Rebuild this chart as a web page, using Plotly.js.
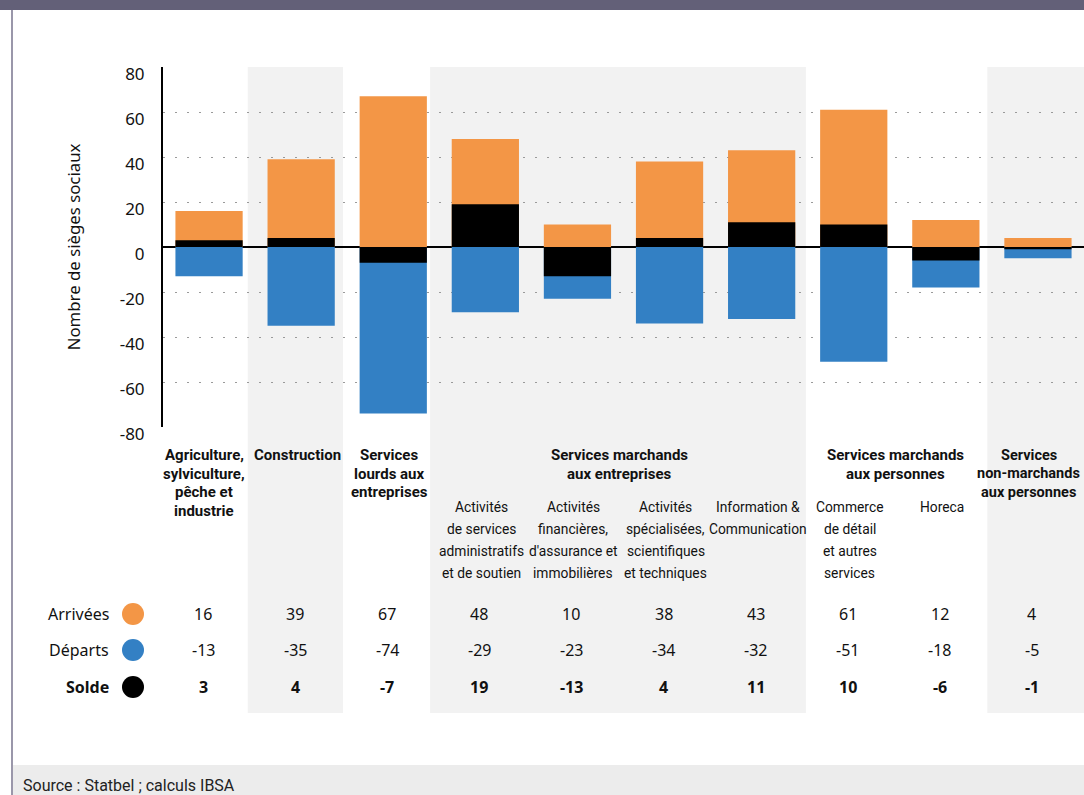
<!DOCTYPE html>
<html>
<head>
<meta charset="utf-8">
<script src="https://cdn.plot.ly/plotly-3.0.1.min.js"></script>
<style>html,body{margin:0;padding:0;background:#fff;}#chart{width:1084px;height:795px;}</style>
</head>
<body>
<div id="chart"></div>
<script>
// ---- data ----
const categories = [
  "Agriculture, sylviculture, pêche et industrie",
  "Construction",
  "Services lourds aux entreprises",
  "Activités de services administratifs et de soutien",
  "Activités financières, d'assurance et immobilières",
  "Activités spécialisées, scientifiques et techniques",
  "Information & Communication",
  "Commerce de détail et autres services",
  "Horeca",
  "Services non-marchands aux personnes"
];
const arrivees = [16, 39, 67, 48, 10, 38, 43, 61, 12, 4];
const departs  = [-13, -35, -74, -29, -23, -34, -32, -51, -18, -5];
const solde    = [3, 4, -7, 19, -13, 4, 11, 10, -6, -1];

const groupLabels = [
  "Agriculture,<br>sylviculture,<br>pêche et<br>industrie",
  "Construction",
  "Services<br>lourds aux<br>entreprises",
  "Services marchands<br>aux entreprises",
  "Services marchands<br>aux personnes",
  "Services<br>non-marchands<br>aux personnes"
];
const groupCenters = [0, 1, 2, 4.5, 7.5, 9];
const subLabels = [
  "Activités<br>de services<br>administratifs<br>et de soutien",
  "Activités<br>financières,<br>d'assurance et<br>immobilières",
  "Activités<br>spécialisées,<br>scientifiques<br>et techniques",
  "Information &<br>Communication",
  "Commerce<br>de détail<br>et autres<br>services",
  "Horeca"
];
const subIndex = [3, 4, 5, 6, 7, 8];
const rowNames = ["Arrivées", "Départs", "Solde"];
const yTicks = [-80, -60, -40, -20, 0, 20, 40, 60, 80];

// ---- style ----
const ORANGE = "rgb(243,150,70)";
const BLUE = "rgb(51,128,196)";
const BLACK = "#000000";
const NARROW = "Roboto, 'Liberation Sans', sans-serif";
const REG = "'Noto Sans', 'Open Sans', sans-serif";
const groupShift = [-5, -4, -4, -4, -4, -9];

const W = 1084, H = 795, L = 163, T = 67, PW = 921, PH = 360;
const px = x => (x - L) / PW;
const py = y => (T + PH - y) / PH;

const idx = categories.map((_, i) => i);

const traces = [
  {type: "bar", name: "Arrivées", x: idx, y: arrivees, marker: {color: ORANGE}, width: 0.73, hoverinfo: "y"},
  {type: "bar", name: "Départs", x: idx, y: departs, marker: {color: BLUE}, width: 0.73, hoverinfo: "y"},
  {type: "bar", name: "Solde", x: idx, y: solde, marker: {color: BLACK}, width: 0.73, hoverinfo: "y"}
];

const shapes = [];
const annotations = [];

// top bar, frame, footer
shapes.push({type: "rect", xref: "paper", yref: "paper", x0: px(0), x1: px(W), y0: py(10), y1: py(0), fillcolor: "rgb(99,96,120)", line: {width: 0}, layer: "below"});
shapes.push({type: "rect", xref: "paper", yref: "paper", x0: px(12), x1: px(W), y0: py(795), y1: py(765), fillcolor: "#ececec", line: {width: 0}, layer: "below"});
shapes.push({type: "line", xref: "paper", yref: "paper", x0: px(12), x1: px(12), y0: py(10), y1: py(795), line: {color: "#9a97aa", width: 2}, layer: "above"});

// shaded bands
const bands = [[0.42, 1.455], [2.40, 6.48], [8.45, 9.6]];
bands.forEach(b => shapes.push({type: "rect", xref: "x", yref: "paper", x0: b[0], x1: b[1], y0: py(713), y1: 1, fillcolor: "#f2f2f2", line: {width: 0}, layer: "below"}));

// headers, per line
function addLines(text, x, yTop, spacing, size, bold, shift) {
  text.split("<br>").forEach((line, k) => {
    annotations.push({xref: "x", yref: "paper", x: x, y: py(yTop + k * spacing), xshift: shift,
      text: bold ? "<b>" + line + "</b>" : line, showarrow: false, xanchor: "center", yanchor: "middle",
      font: {family: NARROW, size: size, color: "#111"}});
  });
}
groupLabels.forEach((g, i) => addLines(g, groupCenters[i], 455, 18.5, i === 5 ? 14.5 : 15, true, groupShift[i]));
subLabels.forEach((s, i) => addLines(s, subIndex[i], 507, 22, 13.8, false, -4));

// table
const rowY = [614, 650, 687];
const rowData = [arrivees, departs, solde];
const rowColors = [ORANGE, BLUE, BLACK];
rowNames.forEach((name, r) => {
  const bold = r === 2;
  annotations.push({xref: "paper", yref: "paper", x: px(111), y: py(rowY[r]), text: bold ? "<b>" + name + "</b>" : name,
    showarrow: false, xanchor: "right", yanchor: "middle", font: {family: REG, size: 16, color: "#111"}});
  shapes.push({type: "circle", xref: "paper", yref: "paper", x0: px(122), x1: px(144), y0: py(rowY[r] + 11), y1: py(rowY[r] - 11),
    fillcolor: rowColors[r], line: {width: 0}, layer: "above"});
  rowData[r].forEach((v, i) => {
    annotations.push({xref: "x", yref: "paper", x: i, y: py(rowY[r]), xshift: -6, text: bold ? "<b>" + v + "</b>" : String(v),
      showarrow: false, xanchor: "center", yanchor: "middle", font: {family: REG, size: 16, color: "#111"}});
  });
});

// source
annotations.push({xref: "paper", yref: "paper", x: px(21), y: py(785), text: "Source : Statbel ; calculs IBSA",
  showarrow: false, xanchor: "left", yanchor: "middle", font: {family: NARROW, size: 16, color: "#222"}});

const layout = {
  width: W, height: H,
  margin: {l: L, r: W - L - PW, t: T, b: H - T - PH, pad: 0},
  paper_bgcolor: "#ffffff",
  plot_bgcolor: "rgba(0,0,0,0)",
  barmode: "overlay",
  showlegend: false,
  xaxis: {range: [-0.5, 9.5], showticklabels: false, showgrid: false, zeroline: false, showline: false, fixedrange: true},
  yaxis: {
    range: [-80, 80], tickvals: yTicks, ticktext: yTicks.map(String),
    showline: true, linecolor: "#000", linewidth: 2,
    zeroline: true, zerolinecolor: "#000", zerolinewidth: 2,
    showgrid: true, gridcolor: "#9a9a9a", gridwidth: 1, griddash: "1.5px,10.5px",
    ticks: "", ticklabelstandoff: 13, ticklabelshift: 7,
    tickfont: {family: REG, size: 17, color: "#111"},
    title: {text: "Nombre de sièges sociaux", font: {family: REG, size: 16.8, color: "#111"}, standoff: 35},
    fixedrange: true
  },
  shapes: shapes,
  annotations: annotations,
  font: {family: REG}
};

Plotly.newPlot("chart", traces, layout, {displayModeBar: false, staticPlot: true});
</script>
</body>
</html>
